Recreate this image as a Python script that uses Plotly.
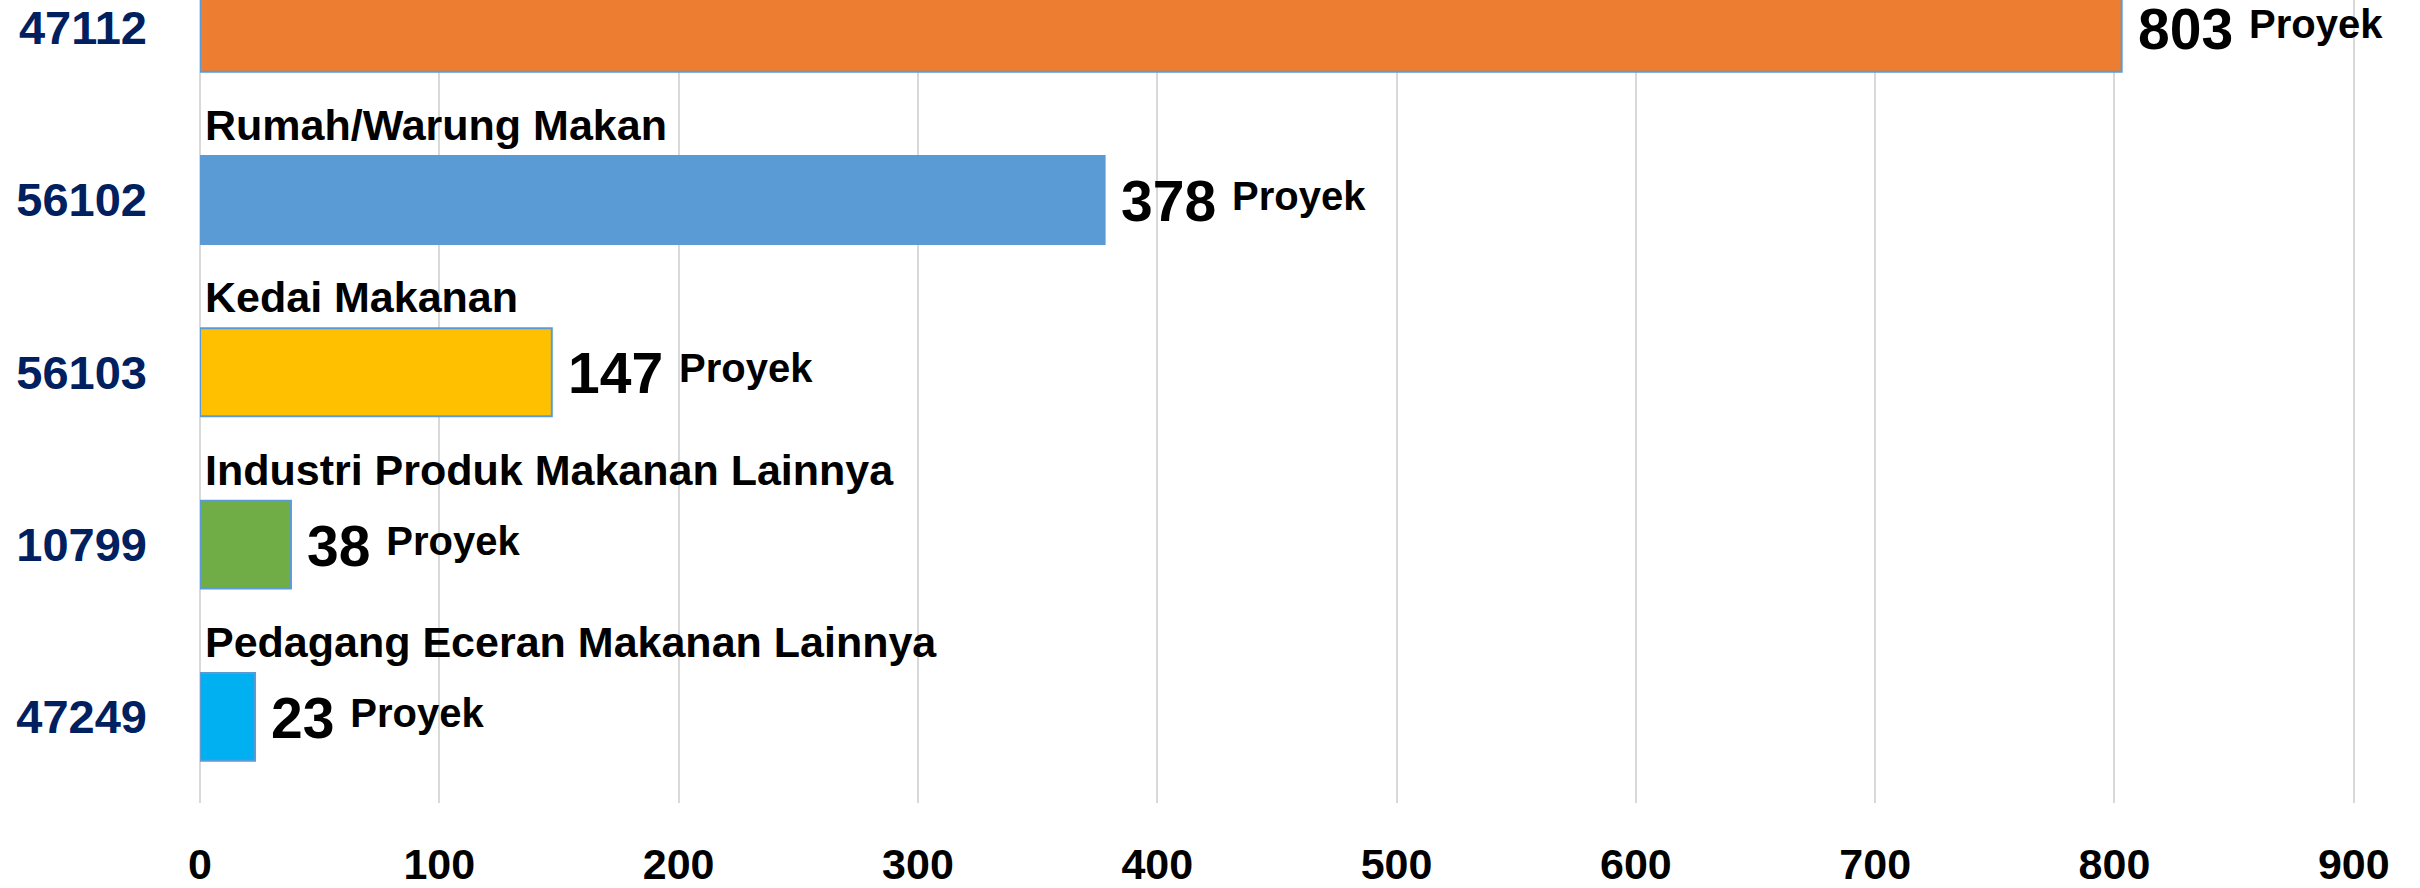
import plotly.graph_objects as go

# Data (top to bottom)
codes = ["47112", "56102", "56103", "10799", "47249"]
values = [803, 378, 147, 38, 23]
names = ["", "Rumah/Warung Makan", "Kedai Makanan",
         "Industri Produk Makanan Lainnya", "Pedagang Eceran Makanan Lainnya"]
colors = ["#ED7D31", "#5B9BD5", "#FFC000", "#70AD47", "#00B0F0"]
unit = "Proyek"
xticks = [0, 100, 200, 300, 400, 500, 600, 700, 800, 900]

FONT = "Liberation Sans, Arial, sans-serif"
BAR_W = 0.51

fig = go.Figure()
fig.add_trace(go.Bar(
    y=codes, x=values, orientation="h",
    marker=dict(color=colors, line=dict(color="#5B9BD5", width=2)),
    width=BAR_W, hoverinfo="skip",
))

annotations = []
for i, (v, n) in enumerate(zip(values, names)):
    # numeric y = category index on the category axis
    annotations.append(dict(
        x=v, y=i, xref="x", yref="y", xanchor="left", yanchor="middle",
        xshift=15, yshift=-1, showarrow=False, borderpad=0,
        text=f"{v} <span style=\"font-size:40px;baseline-shift:11px\">{unit}</span>",
        font=dict(family=FONT, size=57, color="#000000", weight="bold"),
    ))
    if n:
        annotations.append(dict(
            x=0, y=i - BAR_W / 2, xref="x", yref="y", xanchor="left", yanchor="bottom",
            xshift=3, yshift=5, showarrow=False,
            text=n,
            font=dict(family=FONT, size=43, color="#000000", weight="bold"),
        ))

fig.update_layout(
    template="none",
    width=2420, height=888,
    margin=dict(l=200, r=65, t=0, b=85, pad=0, autoexpand=False),
    paper_bgcolor="white", plot_bgcolor="white",
    showlegend=False,
    annotations=annotations,
    xaxis=dict(
        range=[0, 900.5], tickvals=xticks, ticktext=[str(t) for t in xticks],
        automargin=False,
        showgrid=True, gridcolor="#D9D9D9", gridwidth=2,
        zeroline=True, zerolinecolor="#D9D9D9", zerolinewidth=2,
        showline=False, ticks="",
        tickfont=dict(family=FONT, size=43, color="#000000", weight="bold"),
        ticklabelstandoff=32,
    ),
    yaxis=dict(
        type="category", categoryorder="array", categoryarray=codes,
        range=[4.5, -0.161], autorange=False, automargin=False,
        showgrid=False, zeroline=False, showline=False, ticks="",
        tickfont=dict(family=FONT, size=47, color="#002060", weight="bold"),
        ticklabelstandoff=52,
    ),
)

fig.write_html("out.html", config={"displayModeBar": False},
               post_script="document.body.style.margin='0';")
